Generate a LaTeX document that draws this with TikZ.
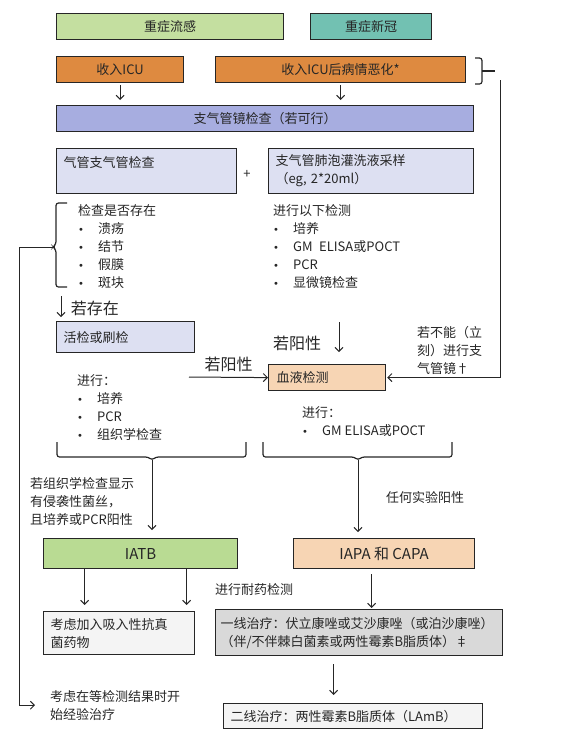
\documentclass[tikz,border=0pt]{standalone}
\usepackage{fontspec}
\setmainfont{Noto Sans CJK SC}
\newfontfamily\dvs{DejaVu Sans}
\usetikzlibrary{arrows.meta}

\definecolor{fluGreen}{HTML}{C4DFA0}
\definecolor{covTeal}{HTML}{72C1B2}
\definecolor{icuOrange}{HTML}{DE8A40}
\definecolor{broBlue}{HTML}{A7ADE0}
\definecolor{exLav}{HTML}{DDE0F2}
\definecolor{bldPeach}{HTML}{F7D5B4}
\definecolor{iatGreen}{HTML}{B9DB93}
\definecolor{txGray}{HTML}{D9D9D9}
\definecolor{lgtGray}{HTML}{F4F4F4}
\definecolor{ink}{HTML}{262626}

\newcommand{\bul}{\makebox[20pt][l]{{\dvs\fontsize{10}{18}\selectfont •}}}

\begin{document}
\begin{tikzpicture}[x=1pt, y=-1pt,
    font=\fontsize{13}{18}\selectfont,
    box/.style={draw=ink, line width=1.2pt, anchor=north west, inner sep=0pt, text=ink},
    lbox/.style={box, align=left, inner xsep=7pt},
    txt/.style={anchor=north west, inner sep=0pt, align=left, text=ink},
    big/.style={font=\fontsize{16}{18}\selectfont, text=ink},
    arr/.style={-{Straight Barb[length=4pt,width=8pt]}, line width=1pt, draw=ink},
    brk/.style={line width=1.2pt, draw=ink, rounded corners=2.5pt}]
    \useasboundingbox (0,0) rectangle (562,740);

    % Patients
    \node[box, fill=fluGreen, minimum width=227, minimum height=26] (flu) at (56,13) {重症流感};
    \node[box, fill=covTeal, minimum width=121, minimum height=26] (covid) at (310,13) {重症新冠};
    \node[box, fill=icuOrange, minimum width=127, minimum height=26] (icu) at (56,56) {收入ICU};
    \node[box, fill=icuOrange, minimum width=250, minimum height=26] (worse) at (215,56) {收入ICU后病情恶化*};
    \node[box, fill=broBlue, minimum width=417, minimum height=26] (bronch) at (56,105) {支气管镜检查（若可行）};

    \draw[arr, shorten <=2pt, shorten >=5pt] (icu.south) -- (icu.south |- bronch.north);
    \draw[arr, shorten <=2pt, shorten >=5pt] (worse.south) -- (worse.south |- bronch.north);

    % Bronchoscopy
    \node[lbox, fill=exLav, text width=166, minimum height=45] (tbex) at (56,148) {气管支气管检查\\\mbox{}};
    \node[text=ink] (plus) at (247,174) {+};
    \node[lbox, fill=exLav, text width=191, minimum height=45] (bal) at (268,148) {支气管肺泡灌洗液采样\\（eg, 2*20ml）};

    \node[txt] (chk) at (78,204) {检查是否存在\\\bul 溃疡\\\bul 结节\\\bul 假膜\\\bul 斑块};
    \node[txt] (lab) at (273,204) {进行以下检测\\\bul 培养\\\bul GM\enspace ELISA或POCT\\\bul PCR\\\bul 显微镜检查};

    % Brace to the left
    \draw[brk] (67,203) -- (56,203) -- (56,244) -- (53,247) -- (56,250) -- (56,287) -- (67,287);
    \coordinate (chkmid) at (53,247);
    \coordinate (lfold) at (19,247);

    % Biopsy and blood
    \node[lbox, fill=exLav, text width=124, minimum height=31] (biopsy) at (56,321) {活检或刷检};
    \node[box, fill=bldPeach, align=left, inner xsep=8pt, text width=101, minimum height=26] (blood) at (268,364) {血液检测};

    \coordinate (chkend) at (61,296);
    \draw[arr, shorten >=4pt] (chkend) -- (chkend |- biopsy.north) node[midway, right=6pt, big] {若存在};

    \coordinate (balend) at (339,322);
    \draw[arr, shorten >=12pt] (balend) -- (balend |- blood.north) node[midway, left=14pt, big] {若阳性};

    \coordinate (bxend) at (189,377);
    \draw[arr] (bxend) -- (blood.west) node[midway, above=2pt, big] {若阳性};

    \node[txt] (nobr) at (417,326) {若不能（立\\刻）进行支\\气管镜†};
    \draw[brk] (475,58) -- (482,58) -- (482,84) -- (475,84);
    \draw[line width=1.2pt, draw=ink] (482,71) -- (495,71);
    \coordinate (rtop) at (500,80);
    \draw[arr, shorten >=1pt] (rtop) |- (blood.east);

    \node[txt] (bxlist) at (77,374) {进行：\\\bul 培养\\\bul PCR\\\bul 组织学检查};
    \node[txt] (bllist) at (302,406) {进行：\\\bul GM ELISA或POCT};

    % Bottom braces
    \draw[brk] (57,442) -- (57,457) -- (148,457) -- (152,460) -- (156,457) -- (246,457) -- (246,442);
    \draw[brk] (263,442) -- (263,457) -- (354,457) -- (358,460) -- (362,457) -- (452,457) -- (452,442);
    \coordinate (lbr) at (152,460);
    \coordinate (rbr) at (358,460);

    \node[txt] (histo) at (30,477) {若组织学检查显示\\有侵袭性菌丝，\\且培养或PCR阳性};
    \node[txt] (anypos) at (386,491) {任何实验阳性};

    % Diagnosis
    \node[box, fill=iatGreen, minimum width=194, minimum height=30, font=\fontsize{15}{18}\selectfont] (iatb) at (43,538) {IATB};
    \node[box, fill=bldPeach, minimum width=181, minimum height=30, font=\fontsize{15}{18}\selectfont] (iapa) at (293,538) {IAPA 和 CAPA};

    \draw[arr, shorten >=8pt] (lbr) -- (lbr |- iatb.north);
    \draw[arr, shorten >=6pt] (rbr) -- (rbr |- iapa.north);

    % Treatment
    \node[lbox, fill=lgtGray, text width=137, minimum height=43] (inh) at (43,611) {考虑加入吸入性抗真\\菌药物};
    \node[box, fill=txGray, align=left, inner xsep=5pt, text width=277, minimum height=46] (first) at (215,609) {一线治疗：伏立康唑或艾沙康唑（或泊沙康唑）\\（伴/不伴棘白菌素或两性霉素B脂质体）‡};
    \node[lbox, fill=lgtGray, text width=245, minimum height=25] (second) at (223,703) {二线治疗：两性霉素B脂质体（LAmB）};
    \node[txt] (drug) at (215,583) {进行耐药检测};
    \node[txt] (empiric) at (50,690) {考虑在等检测结果时开\\始经验治疗};

    \coordinate (ia) at ([xshift=-56pt]iatb.south);
    \coordinate (ib) at ([xshift=46pt]iatb.south);
    \draw[arr, shorten >=6pt] (ia) -- (ia |- inh.north);
    \draw[arr, shorten >=6pt] (ib) -- (ib |- inh.north);

    \coordinate (ip) at ([xshift=-12.5pt]iapa.south);
    \draw[arr, shorten <=5pt, shorten >=1pt] (ip) -- (ip |- first.north);

    \coordinate (fp) at ([xshift=-25.5pt]first.south);
    \draw[arr, shorten <=8pt, shorten >=8pt] (fp) -- (fp |- second.north);

    \draw[arr, shorten >=15pt] (chkmid) -- (lfold) |- (empiric.west);
\end{tikzpicture}
\end{document}
